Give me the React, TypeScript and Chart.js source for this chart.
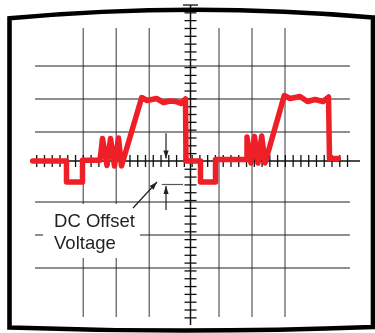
import React, { useEffect, useRef } from 'react';
import { Chart, registerables } from 'chart.js';

Chart.register(...registerables);

// Trace of the scope (units: screen divisions, origin at the centre cross)
const traceX = [
  -4.782, -3.758, -3.758, -3.273, -3.273, -2.742, -2.667, -2.53, -2.424, -2.303, -2.182, -2.091,
  -1.479, -1.318, -1.03, -0.818, -0.621, -0.439, -0.288, -0.152, -0.136,
  0.303, 0.303, 0.758, 0.758, 1.682, 1.712, 1.833, 1.939, 2.045, 2.158, 2.258,
  2.842, 3.015, 3.318, 3.545, 3.773, 4.015, 4.182, 4.212, 4.479,
];
const traceY = [
  0, 0, -0.636, -0.636, 0.02, 0.02, 0.682, -0.136, 0.682, -0.152, 0.697, -0.152,
  1.924, 1.833, 1.894, 1.773, 1.818, 1.803, 1.742, 1.879, 0,
  0, -0.636, -0.636, 0.045, 0.045, 0.727, -0.061, 0.742, -0.061, 0.758, -0.061,
  1.985, 1.894, 1.955, 1.803, 1.864, 1.803, 1.939, 0.076, 0.076,
];

// Graticule
const vGrid = [-3.25, -2.25, -1.25, 0.864, 1.864, 2.864];
const hGrid = [2.879, 1.879, 0.879, -1.242, -2.242, -3.242];
const labelLines = ['DC Offset', 'Voltage'];

const X_MIN = -5.773;
const X_MAX = 5.591;
const Y_MIN = -5.212;
const Y_MAX = 4.879;

const scopePlugin = {
  id: 'scopeDecor',
  beforeDatasetsDraw(chart: any) {
    const { ctx, scales } = chart;
    const X = (u: number) => scales.x.getPixelForValue(u);
    const Y = (v: number) => scales.y.getPixelForValue(v);
    const seg = (x1: number, y1: number, x2: number, y2: number) => {
      ctx.beginPath();
      ctx.moveTo(x1, y1);
      ctx.lineTo(x2, y2);
      ctx.stroke();
    };
    ctx.save();
    ctx.fillStyle = '#ffffff';
    ctx.fillRect(0, 0, chart.width, chart.height);

    // vertical grid
    ctx.strokeStyle = '#6f6f72';
    ctx.lineWidth = 1.4;
    for (const u of vGrid) seg(X(u), Y(4.03), X(u), Y(-4.727));
    // horizontal grid
    ctx.strokeStyle = '#231f20';
    ctx.lineWidth = 1.2;
    for (const v of hGrid) seg(X(-4.71), Y(v), X(4.83), Y(v));

    // label box
    ctx.fillStyle = '#ffffff';
    ctx.fillRect(X(-4.47), Y(-1.303), X(-1.53) - X(-4.47), Y(-2.939) - Y(-1.303));

    // centre axes
    ctx.strokeStyle = '#111111';
    ctx.lineWidth = 1.5;
    seg(X(-4.833), Y(0), X(5.136), Y(0));
    seg(X(0), Y(4.727), X(0), Y(-4.97));
    // ticks
    ctx.lineWidth = 1.3;
    for (let k = 0; k <= 40; k++) {
      const px = X(-4.661 + k * 0.2355);
      seg(px, Y(0) - 6, px, Y(0) + 6);
    }
    for (let k = 0; k <= 40; k++) {
      const py = Y(4.727 - k * 0.237);
      const w = k === 0 ? 7.5 : 6;
      seg(X(0) - w, py, X(0) + w, py);
    }
    ctx.restore();
  },
  afterDatasetsDraw(chart: any) {
    const { ctx, scales } = chart;
    const X = (u: number) => scales.x.getPixelForValue(u);
    const Y = (v: number) => scales.y.getPixelForValue(v);
    const arrow = (x1: number, y1: number, x2: number, y2: number) => {
      ctx.beginPath();
      ctx.moveTo(x1, y1);
      ctx.lineTo(x2, y2);
      ctx.stroke();
      const a = Math.atan2(y2 - y1, x2 - x1);
      const L = 8;
      const W = 2.6;
      const bx = x2 - L * Math.cos(a);
      const by = y2 - L * Math.sin(a);
      ctx.beginPath();
      ctx.moveTo(x2, y2);
      ctx.lineTo(bx + W * Math.sin(a), by - W * Math.cos(a));
      ctx.lineTo(bx - W * Math.sin(a), by + W * Math.cos(a));
      ctx.closePath();
      ctx.fill();
    };
    ctx.save();
    ctx.strokeStyle = '#231f20';
    ctx.fillStyle = '#231f20';
    ctx.lineWidth = 1.2;
    arrow(X(-0.742), Y(0.839), X(-0.742), Y(0.076));
    arrow(X(-0.742), Y(-1.485), X(-0.742), Y(-0.758));
    arrow(X(-1.742), Y(-1.424), X(-1.015), Y(-0.636));
    ctx.strokeStyle = '#58595b';
    ctx.beginPath();
    ctx.moveTo(X(-0.873), Y(-0.712));
    ctx.lineTo(X(-0.227), Y(-0.712));
    ctx.stroke();

    // label
    ctx.fillStyle = '#231f20';
    ctx.font = '18.5px "Liberation Sans", Arial, sans-serif';
    ctx.textBaseline = 'alphabetic';
    ctx.textAlign = 'left';
    ctx.fillText(labelLines[0], X(-4.136), Y(-1.991));
    ctx.fillText(labelLines[1], X(-4.136), Y(-2.676));

    // CRT bezel
    const w = chart.width;
    ctx.strokeStyle = '#000000';
    ctx.lineWidth = 4.6;
    ctx.lineJoin = 'miter';
    ctx.beginPath();
    ctx.moveTo(9.5, 327.5);
    ctx.lineTo(9.5, 18.3);
    ctx.quadraticCurveTo(190, 1.7, w - 2, 17.5);
    ctx.lineTo(w - 2, 327);
    ctx.quadraticCurveTo(190, 333.75, 9.5, 327.5);
    ctx.closePath();
    ctx.stroke();
    ctx.restore();
  },
};

export default function App() {
  const canvasRef = useRef<HTMLCanvasElement | null>(null);

  useEffect(() => {
    const canvas = canvasRef.current;
    if (!canvas) return;
    const data = traceX.map((x, i) => ({ x, y: traceY[i] }));
    const chart = new Chart(canvas, {
      type: 'scatter',
      data: {
        datasets: [
          {
            data,
            showLine: true,
            borderColor: '#ee1f26',
            backgroundColor: '#ee1f26',
            borderWidth: 5.5,
            pointRadius: 0,
            pointHoverRadius: 0,
            tension: 0,
            borderJoinStyle: 'round',
            borderCapStyle: 'round',
            clip: false,
          } as any,
        ],
      },
      options: {
        responsive: false,
        animation: false,
        devicePixelRatio: 1,
        layout: { padding: 0 },
        plugins: { legend: { display: false }, tooltip: { enabled: false } },
        events: [],
        scales: {
          x: { type: 'linear', min: X_MIN, max: X_MAX, display: false },
          y: { type: 'linear', min: Y_MIN, max: Y_MAX, display: false },
        },
      },
      plugins: [scopePlugin],
    });
    return () => chart.destroy();
  }, []);

  return (
    <div style={{ position: 'absolute', left: 0, top: 0, width: 375, height: 333 }}>
      <canvas ref={canvasRef} width={375} height={333} style={{ display: 'block' }} />
    </div>
  );
}
